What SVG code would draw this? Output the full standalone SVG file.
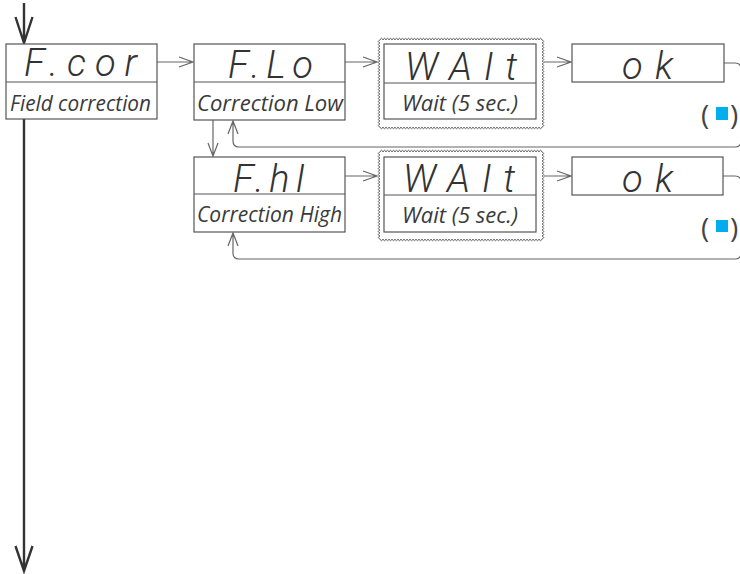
<svg xmlns="http://www.w3.org/2000/svg" width="740" height="574" viewBox="0 0 740 574">
<style>
.box{fill:#fff;stroke:#555;stroke-width:1.2}
.div{stroke:#555;stroke-width:1.2}
.seg{font-family:Roboto,"DejaVu Sans",sans-serif;font-style:italic;font-weight:300;font-size:38px;fill:#333}
.lbl{font-family:"Open Sans","Noto Sans",sans-serif;font-style:italic;font-size:22px;fill:#3a3a3a}
.par{font-family:"Open Sans","Noto Sans",sans-serif;font-size:28px;fill:#444}
.con{fill:none;stroke:#666;stroke-width:1.2}
.main{fill:none;stroke:#333;stroke-width:2.4}
.wavy{fill:#fff;stroke:#666;stroke-width:1}
.blue{fill:#00AEEF}
</style>
<defs>
<path id="wave" d="M380,40 q1.5,-3.5 3,0 1.5,-3.5 3,0 1.5,-3.5 3,0 1.5,-3.5 3,0 1.5,-3.5 3,0 1.5,-3.5 3,0 1.5,-3.5 3,0 1.5,-3.5 3,0 1.5,-3.5 3,0 1.5,-3.5 3,0 1.5,-3.5 3,0 1.5,-3.5 3,0 1.5,-3.5 3,0 1.5,-3.5 3,0 1.5,-3.5 3,0 1.5,-3.5 3,0 1.5,-3.5 3,0 1.5,-3.5 3,0 1.5,-3.5 3,0 1.5,-3.5 3,0 1.5,-3.5 3,0 1.5,-3.5 3,0 1.5,-3.5 3,0 1.5,-3.5 3,0 1.5,-3.5 3,0 1.5,-3.5 3,0 1.5,-3.5 3,0 1.5,-3.5 3,0 1.5,-3.5 3,0 1.5,-3.5 3,0 1.5,-3.5 3,0 1.5,-3.5 3,0 1.5,-3.5 3,0 1.5,-3.5 3,0 1.5,-3.5 3,0 1.5,-3.5 3,0 1.5,-3.5 3,0 1.5,-3.5 3,0 1.5,-3.5 3,0 1.5,-3.5 3,0 1.5,-3.5 3,0 1.5,-3.5 3,0 1.5,-3.5 3,0 1.5,-3.5 3,0 1.5,-3.5 3,0 1.5,-3.5 3,0 1.5,-3.5 3,0 1.5,-3.5 3,0 1.5,-3.5 3,0 1.5,-3.5 3,0 1.5,-3.5 3,0 1.5,-3.5 3,0 1.5,-3.5 3,0 1.5,-3.5 3,0
q3.5,1.5 0,3 3.5,1.5 0,3 3.5,1.5 0,3 3.5,1.5 0,3 3.5,1.5 0,3 3.5,1.5 0,3 3.5,1.5 0,3 3.5,1.5 0,3 3.5,1.5 0,3 3.5,1.5 0,3 3.5,1.5 0,3 3.5,1.5 0,3 3.5,1.5 0,3 3.5,1.5 0,3 3.5,1.5 0,3 3.5,1.5 0,3 3.5,1.5 0,3 3.5,1.5 0,3 3.5,1.5 0,3 3.5,1.5 0,3 3.5,1.5 0,3 3.5,1.5 0,3 3.5,1.5 0,3 3.5,1.5 0,3 3.5,1.5 0,3 3.5,1.5 0,3 3.5,1.5 0,3 3.5,1.5 0,3 3.5,1.5 0,3
q-1.5,3.5 -3,0 -1.5,3.5 -3,0 -1.5,3.5 -3,0 -1.5,3.5 -3,0 -1.5,3.5 -3,0 -1.5,3.5 -3,0 -1.5,3.5 -3,0 -1.5,3.5 -3,0 -1.5,3.5 -3,0 -1.5,3.5 -3,0 -1.5,3.5 -3,0 -1.5,3.5 -3,0 -1.5,3.5 -3,0 -1.5,3.5 -3,0 -1.5,3.5 -3,0 -1.5,3.5 -3,0 -1.5,3.5 -3,0 -1.5,3.5 -3,0 -1.5,3.5 -3,0 -1.5,3.5 -3,0 -1.5,3.5 -3,0 -1.5,3.5 -3,0 -1.5,3.5 -3,0 -1.5,3.5 -3,0 -1.5,3.5 -3,0 -1.5,3.5 -3,0 -1.5,3.5 -3,0 -1.5,3.5 -3,0 -1.5,3.5 -3,0 -1.5,3.5 -3,0 -1.5,3.5 -3,0 -1.5,3.5 -3,0 -1.5,3.5 -3,0 -1.5,3.5 -3,0 -1.5,3.5 -3,0 -1.5,3.5 -3,0 -1.5,3.5 -3,0 -1.5,3.5 -3,0 -1.5,3.5 -3,0 -1.5,3.5 -3,0 -1.5,3.5 -3,0 -1.5,3.5 -3,0 -1.5,3.5 -3,0 -1.5,3.5 -3,0 -1.5,3.5 -3,0 -1.5,3.5 -3,0 -1.5,3.5 -3,0 -1.5,3.5 -3,0 -1.5,3.5 -3,0 -1.5,3.5 -3,0 -1.5,3.5 -3,0 -1.5,3.5 -3,0 -1.5,3.5 -3,0 -1.5,3.5 -3,0
q-3.5,-1.5 0,-3 -3.5,-1.5 0,-3 -3.5,-1.5 0,-3 -3.5,-1.5 0,-3 -3.5,-1.5 0,-3 -3.5,-1.5 0,-3 -3.5,-1.5 0,-3 -3.5,-1.5 0,-3 -3.5,-1.5 0,-3 -3.5,-1.5 0,-3 -3.5,-1.5 0,-3 -3.5,-1.5 0,-3 -3.5,-1.5 0,-3 -3.5,-1.5 0,-3 -3.5,-1.5 0,-3 -3.5,-1.5 0,-3 -3.5,-1.5 0,-3 -3.5,-1.5 0,-3 -3.5,-1.5 0,-3 -3.5,-1.5 0,-3 -3.5,-1.5 0,-3 -3.5,-1.5 0,-3 -3.5,-1.5 0,-3 -3.5,-1.5 0,-3 -3.5,-1.5 0,-3 -3.5,-1.5 0,-3 -3.5,-1.5 0,-3 -3.5,-1.5 0,-3 -3.5,-1.5 0,-3 Z"/>
</defs>
<rect width="740" height="574" fill="#fff"/>

<g id="connectors">
  <path class="main" d="M24,3 V43 M15.5,17 L24,43 L32.5,17"/>
  <path class="main" d="M24,119 V571 M15.5,546 L24,571 L32.5,546"/>
  <path class="con" d="M157,62 H193 M179,57 L193,62 L179,67"/>
  <path class="con" d="M345,62 H377 M363,57 L377,62 L363,67"/>
  <path class="con" d="M544,62 H571 M557,57 L571,62 L557,67"/>
  <path class="con" d="M724,63 H735 Q741,63 741,69 V141 Q741,147 735,147 H239 Q233,147 233,141 V121 M228,134 L233,121 L238,134"/>
  <path class="con" d="M213,120 V156 M208,143 L213,156 L218,143"/>
  <path class="con" d="M345,176 H377 M363,171 L377,176 L363,181"/>
  <path class="con" d="M544,176 H571 M557,171 L571,176 L557,181"/>
  <path class="con" d="M723,176 H735 Q741,176 741,182 V253 Q741,259 735,259 H239 Q233,259 233,253 V233 M228,246 L233,233 L238,246"/>
</g>

<g id="fcor">
  <rect class="box" x="6" y="44" width="151" height="75"/>
  <line class="div" x1="6" y1="82" x2="157" y2="82"/>
  <text class="seg" x="24" y="76" textLength="113" lengthAdjust="spacing">F.cor</text>
  <text class="lbl" x="10" y="111" textLength="141" lengthAdjust="spacingAndGlyphs">Field correction</text>
</g>

<g id="flo">
  <rect class="box" x="194" y="44" width="151" height="76"/>
  <line class="div" x1="194" y1="82" x2="345" y2="82"/>
  <text class="seg" x="228" y="78" textLength="85" lengthAdjust="spacing">F.Lo</text>
  <text class="lbl" x="197" y="111" textLength="146" lengthAdjust="spacingAndGlyphs">Correction Low</text>
</g>

<g id="wait1">
  <use href="#wave" class="wavy"/>
  <rect class="box" x="384" y="44" width="152" height="75"/>
  <line class="div" x1="384" y1="83" x2="536" y2="83"/>
  <text class="seg" x="405" y="80" textLength="112" lengthAdjust="spacing">WAIt</text>
  <text class="lbl" x="402" y="111" textLength="116" lengthAdjust="spacingAndGlyphs">Wait (5 sec.)</text>
</g>

<g id="ok1">
  <rect class="box" x="572" y="44" width="152" height="38"/>
  <text class="seg" x="622" y="79" textLength="51" lengthAdjust="spacing">ok</text>
  <text class="par" x="701" y="125">(</text>
  <rect class="blue" x="716" y="107" width="12" height="13"/>
  <text class="par" x="730" y="125">)</text>
</g>

<g id="fhi">
  <rect class="box" x="194" y="157" width="151" height="75"/>
  <line class="div" x1="194" y1="194" x2="345" y2="194"/>
  <text class="seg" x="233" y="192" textLength="72" lengthAdjust="spacing">F.hI</text>
  <text class="lbl" x="197" y="222" textLength="145" lengthAdjust="spacingAndGlyphs">Correction High</text>
</g>

<g id="wait2">
  <use href="#wave" class="wavy" transform="translate(0,112)"/>
  <rect class="box" x="384" y="157" width="152" height="75"/>
  <line class="div" x1="384" y1="195" x2="536" y2="195"/>
  <text class="seg" x="403" y="192" textLength="112" lengthAdjust="spacing">WAIt</text>
  <text class="lbl" x="402" y="223" textLength="116" lengthAdjust="spacingAndGlyphs">Wait (5 sec.)</text>
</g>

<g id="ok2">
  <rect class="box" x="572" y="157" width="151" height="38"/>
  <text class="seg" x="622" y="192" textLength="51" lengthAdjust="spacing">ok</text>
  <text class="par" x="701" y="238">(</text>
  <rect class="blue" x="716" y="220" width="12" height="12"/>
  <text class="par" x="730" y="238">)</text>
</g>
</svg>
